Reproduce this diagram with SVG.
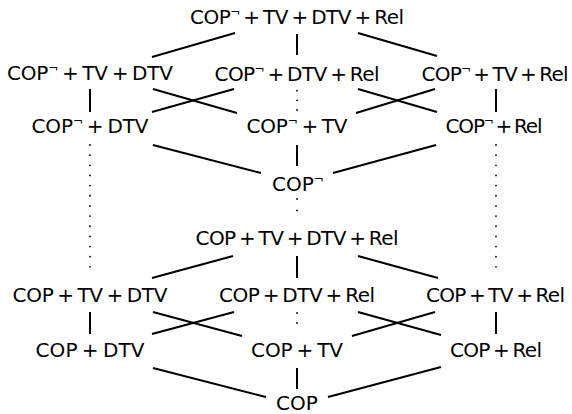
<svg xmlns="http://www.w3.org/2000/svg" width="572" height="414" viewBox="0 0 572 414">
<style>
.n{font-family:"DejaVu Sans","Liberation Sans",sans-serif;font-size:20px;text-anchor:middle;fill:#000}
.s{font-size:12px}
.e{stroke:#000;stroke-width:2;fill:none}
.d{stroke:#000;stroke-width:1.8;stroke-linecap:round;fill:none}
</style>
<rect width="572" height="414" fill="#fff"/>
<g id="connectors">
<line class="e" x1="152" y1="57" x2="235" y2="33"/>
<line class="e" x1="297" y1="34" x2="297" y2="55"/>
<line class="e" x1="358" y1="33" x2="437" y2="56"/>
<line class="e" x1="90" y1="89" x2="90" y2="112"/>
<line class="e" x1="153" y1="89" x2="237" y2="113"/>
<line class="e" x1="152" y1="112" x2="234" y2="89"/>
<line class="e" x1="358" y1="89" x2="437" y2="112"/>
<line class="e" x1="356" y1="113" x2="435" y2="89"/>
<line class="e" x1="496" y1="89" x2="496" y2="112"/>
<line class="d" x1="297" y1="90.7" x2="297" y2="110" stroke-dasharray="0 9.65"/>
<line class="e" x1="153" y1="145" x2="261" y2="173"/>
<line class="e" x1="297" y1="145" x2="297" y2="166"/>
<line class="e" x1="333" y1="173" x2="436" y2="145"/>
<line class="d" x1="297" y1="199" x2="297" y2="222" stroke-dasharray="0 11.5"/>
<line class="d" x1="90" y1="145" x2="90" y2="277" stroke-dasharray="0 10.154"/>
<line class="d" x1="496" y1="145" x2="496" y2="277" stroke-dasharray="0 10.154"/>
<line class="e" x1="152" y1="278" x2="233" y2="256"/>
<line class="e" x1="297" y1="256" x2="297" y2="278"/>
<line class="e" x1="358" y1="256" x2="438" y2="278"/>
<line class="e" x1="90" y1="312" x2="90" y2="334"/>
<line class="e" x1="153" y1="312" x2="242" y2="336"/>
<line class="e" x1="152" y1="334" x2="234" y2="312"/>
<line class="e" x1="358" y1="312" x2="441" y2="335"/>
<line class="e" x1="352" y1="336" x2="435" y2="312"/>
<line class="e" x1="496" y1="312" x2="496" y2="334"/>
<line class="d" x1="297" y1="313" x2="297" y2="333" stroke-dasharray="0 10"/>
<line class="e" x1="153" y1="368" x2="266" y2="397"/>
<line class="e" x1="297" y1="368" x2="297" y2="389"/>
<line class="e" x1="328" y1="397" x2="441" y2="367"/>
</g>
<g id="n-neg-tv-dtv-rel"><text class="n" x="297" y="24" textLength="214" lengthAdjust="spacing">COP<tspan class="s" dy="-8">¬</tspan><tspan dy="8">&#8201;+&#8201;TV&#8201;+&#8201;DTV&#8201;+&#8201;Rel</tspan></text></g>
<g id="n-neg-tv-dtv"><text class="n" x="90" y="80" textLength="166" lengthAdjust="spacing">COP<tspan class="s" dy="-8">¬</tspan><tspan dy="8">&#8201;+&#8201;TV&#8201;+&#8201;DTV</tspan></text></g>
<g id="n-neg-dtv-rel"><text class="n" x="297" y="81" textLength="165" lengthAdjust="spacing">COP<tspan class="s" dy="-8">¬</tspan><tspan dy="8">&#8201;+&#8201;DTV&#8201;+&#8201;Rel</tspan></text></g>
<g id="n-neg-tv-rel"><text class="n" x="495" y="81" textLength="147" lengthAdjust="spacing">COP<tspan class="s" dy="-8">¬</tspan><tspan dy="8">&#8201;+&#8201;TV&#8201;+&#8201;Rel</tspan></text></g>
<g id="n-neg-dtv"><text class="n" x="90" y="133" textLength="117" lengthAdjust="spacing">COP<tspan class="s" dy="-8">¬</tspan><tspan dy="8">&#8201;+&#8201;DTV</tspan></text></g>
<g id="n-neg-tv"><text class="n" x="297" y="133" textLength="101" lengthAdjust="spacing">COP<tspan class="s" dy="-8">¬</tspan><tspan dy="8">&#8201;+&#8201;TV</tspan></text></g>
<g id="n-neg-rel"><text class="n" x="494" y="133" textLength="97" lengthAdjust="spacing">COP<tspan class="s" dy="-8">¬</tspan><tspan dy="8">&#8201;+&#8201;Rel</tspan></text></g>
<g id="n-neg"><text class="n" x="298" y="191">COP<tspan class="s" dy="-8">¬</tspan></text></g>
<g id="n-tv-dtv-rel"><text class="n" x="297" y="245" textLength="203" lengthAdjust="spacing">COP&#8201;+&#8201;TV&#8201;+&#8201;DTV&#8201;+&#8201;Rel</text></g>
<g id="n-tv-dtv"><text class="n" x="90" y="302" textLength="155" lengthAdjust="spacing">COP&#8201;+&#8201;TV&#8201;+&#8201;DTV</text></g>
<g id="n-dtv-rel"><text class="n" x="297" y="302" textLength="156" lengthAdjust="spacing">COP&#8201;+&#8201;DTV&#8201;+&#8201;Rel</text></g>
<g id="n-tv-rel"><text class="n" x="495.5" y="302" textLength="139" lengthAdjust="spacing">COP&#8201;+&#8201;TV&#8201;+&#8201;Rel</text></g>
<g id="n-dtv"><text class="n" x="90" y="357" textLength="109" lengthAdjust="spacing">COP&#8201;+&#8201;DTV</text></g>
<g id="n-tv"><text class="n" x="297" y="357" textLength="92" lengthAdjust="spacing">COP&#8201;+&#8201;TV</text></g>
<g id="n-rel"><text class="n" x="496" y="357" textLength="92" lengthAdjust="spacing">COP&#8201;+&#8201;Rel</text></g>
<g id="n-cop"><text class="n" x="297" y="410">COP</text></g>
</svg>
